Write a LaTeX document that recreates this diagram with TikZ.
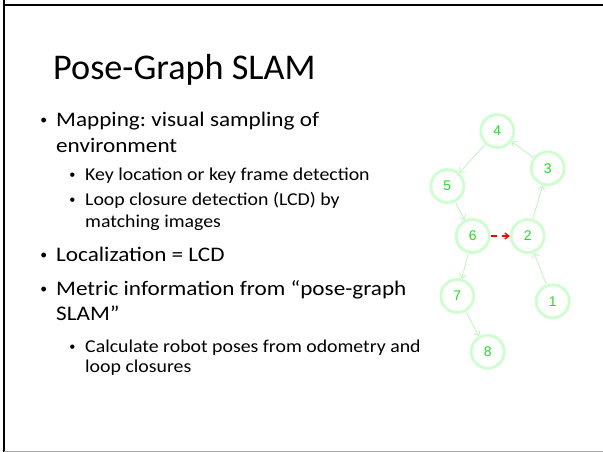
\documentclass[tikz,border=0pt]{standalone}
\usepackage{fontspec}
\setmainfont{Carlito}
\newfontfamily\bodyfont[FakeStretch=1.12]{Carlito}
\newfontfamily\subfont[FakeStretch=1.095]{Carlito}
\newfontfamily\numfont{Liberation Sans}
\newfontfamily\dotfont{Liberation Sans}
\usetikzlibrary{arrows.meta}
\definecolor{ringgreen}{HTML}{CCFFCC}
\definecolor{edgegreen}{HTML}{C4F5C4}
\definecolor{numgreen}{HTML}{22DD22}
\begin{document}
\frenchspacing
\begin{tikzpicture}[x=1pt,y=-1pt,
  pose/.style={circle,draw=ringgreen,line width=2.7pt,minimum size=33pt,inner sep=0pt,
    text=numgreen,font=\numfont\fontsize{14}{14}\selectfont},
  odo/.style={draw=edgegreen,line width=0.9pt,-{Straight Barb[length=4pt,width=7pt]},shorten <=0.5pt},
  loopedge/.style={draw=red,line width=1.3pt,dash pattern=on 6pt off 5pt,-{Straight Barb[length=4pt,width=6pt]}},
  title/.style={anchor=base west,inner sep=0pt,font=\fontsize{36.2}{36.2}\selectfont},
  lvla/.style={anchor=base west,inner sep=0pt,font=\bodyfont\fontsize{20.7}{20.7}\selectfont},
  lvlb/.style={anchor=base west,inner sep=0pt,font=\subfont\fontsize{18.1}{18.1}\selectfont},
  dota/.style={anchor=base west,inner sep=0pt,font=\dotfont\fontsize{18}{18}\selectfont},
  dotb/.style={anchor=base west,inner sep=0pt,font=\dotfont\fontsize{16}{16}\selectfont}]
\useasboundingbox (0,0) rectangle (603,452);
\fill[white] (0,0) rectangle (603,452);
% slide frame
\draw[black,line width=2pt] (4,0) -- (4,452);
\draw[black,line width=1.6pt] (4,5) -- (603,5);
\draw[gray!70,line width=1pt] (4,451) -- (603,451);

% title
\node[title] (ttl) at (53,80) {Pose-Graph SLAM};

% bullet list
\node[dota] (b1) at (40.5,126.7) {•};
\node[lvla] (t1) at (56,126.7) {Mapping: visual sampling of};
\node[lvla] (t1b) at (56,152.7) {environment};
\node[dotb] (b2) at (69.5,180.7) {•};
\node[lvlb] (t2) at (85,180.7) {Key location or key frame detection};
\node[dotb] (b3) at (69.5,205) {•};
\node[lvlb] (t3) at (85,205) {Loop closure detection (LCD) by};
\node[lvlb] (t3b) at (85,227) {matching images};
\node[dota] (b4) at (40.5,261.7) {•};
\node[lvla] (t4) at (56,261.7) {Localization = LCD};
\node[dota] (b5) at (40.5,295.5) {•};
\node[lvla] (t5) at (56,295.5) {Metric information from “pose-graph};
\node[lvla] (t5b) at (56,320) {SLAM”};
\node[dotb] (b6) at (69.5,352.3) {•};
\node[lvlb] (t6) at (85,352.3) {Calculate robot poses from odometry and};
\node[lvlb] (t6b) at (85,372) {loop closures};

% pose graph
\node[pose] (p4) at (497.3,131) {4};
\node[pose] (p3) at (547.7,168.3) {3};
\node[pose] (p5) at (447.3,186) {5};
\node[pose] (p6) at (472.7,236) {6};
\node[pose] (p2) at (527.7,236) {2};
\node[pose] (p7) at (457.3,296) {7};
\node[pose] (p1) at (552.7,301.3) {1};
\node[pose] (p8) at (487.7,351.7) {8};

\draw[odo] (p1) -- (p2);
\draw[odo] (p2) -- (p3);
\draw[odo] (p3) -- (p4);
\draw[odo] (p4) -- (p5);
\draw[odo] (p5) -- (p6);
\draw[odo] (p6) -- (p7);
\draw[odo] (p7) -- (p8);
\draw[loopedge] (p6) -- (p2);
\end{tikzpicture}
\end{document}
